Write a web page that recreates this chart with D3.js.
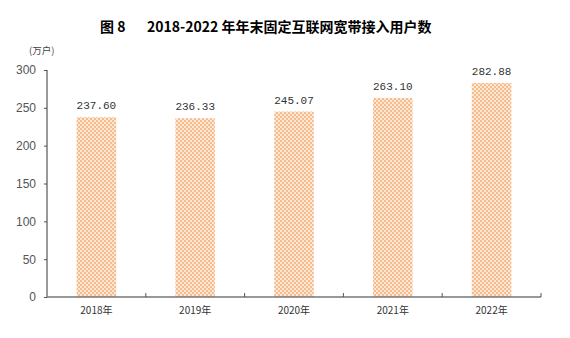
<!DOCTYPE html>
<html>
<head>
<meta charset="utf-8">
<script src="https://cdn.jsdelivr.net/npm/d3@7"></script>
<style>
  html, body { margin: 0; padding: 0; background: #fff; }
  svg { display: block; }
</style>
</head>
<body>
<script>
// Year-end fixed broadband subscribers, 2018–2022 (10k households)
const years = ["2018年", "2019年", "2020年", "2021年", "2022年"];
const subscribers = [237.60, 236.33, 245.07, 263.10, 282.88];
const yTicks = [0, 50, 100, 150, 200, 250, 300];
const titleLead = "图 8";
const titleText = "2018-2022 年年末固定互联网宽带接入用户数";
const unitLabel = "(万户)";

const W = 570, H = 338;
const plotLeft = 47, plotRight = 541, plotTop = 70, plotBottom = 297;

const svg = d3.select("body").append("svg")
  .attr("width", W).attr("height", H);

// checkerboard fill for the bars
const defs = svg.append("defs");
const pat = defs.append("pattern")
  .attr("id", "checker")
  .attr("patternUnits", "userSpaceOnUse")
  .attr("width", 4).attr("height", 4);
pat.append("rect").attr("width", 4).attr("height", 4).attr("fill", "#fde8d6");
pat.append("rect").attr("x", 0).attr("y", 0).attr("width", 2).attr("height", 2).attr("fill", "#f6bc8e");
pat.append("rect").attr("x", 2).attr("y", 2).attr("width", 2).attr("height", 2).attr("fill", "#f6bc8e");

const x = d3.scaleBand().domain(years).range([plotLeft, plotRight]).paddingInner(0.6).paddingOuter(0.3);
const xEdge = d3.scaleLinear().domain([0, years.length]).range([plotLeft, plotRight]);
const y = d3.scaleLinear().domain([0, 300]).range([plotBottom, plotTop]);

// title
svg.append("text")
  .attr("x", 100).attr("y", 32)
  .attr("font-family", "'Noto Sans CJK SC', sans-serif")
  .attr("font-weight", "bold").attr("font-size", 14).attr("fill", "#000")
  .text(titleLead);
svg.append("text")
  .attr("x", 147).attr("y", 32)
  .attr("font-family", "'Noto Sans CJK SC', sans-serif")
  .attr("font-weight", "bold").attr("font-size", 14).attr("fill", "#000")
  .text(titleText);

// unit label
svg.append("text")
  .attr("x", 29).attr("y", 54)
  .attr("font-family", "'Noto Sans CJK SC', sans-serif")
  .attr("font-size", 9.5).attr("fill", "#444")
  .text(unitLabel);

// bars
svg.append("g").selectAll("rect")
  .data(subscribers)
  .join("rect")
  .attr("x", (d, i) => x(years[i]))
  .attr("width", x.bandwidth())
  .attr("y", d => y(d))
  .attr("height", d => y(0) - y(d))
  .attr("fill", "url(#checker)");

// value labels
svg.append("g").selectAll("text")
  .data(subscribers)
  .join("text")
  .attr("x", (d, i) => x(years[i]) + x.bandwidth() / 2)
  .attr("y", d => y(d) - 8)
  .attr("text-anchor", "middle")
  .attr("font-family", "'Liberation Mono', monospace")
  .attr("font-size", 11).attr("fill", "#333")
  .text(d => d.toFixed(2));

// y axis
const yAxis = svg.append("g")
  .attr("transform", `translate(${plotLeft},0)`)
  .call(d3.axisLeft(y).tickValues(yTicks).tickSize(3).tickPadding(8).tickFormat(d3.format("d")));
yAxis.select(".domain").attr("stroke", "#777").attr("stroke-width", 1.5).attr("d", `M0,${plotTop}V${plotBottom}`);
yAxis.selectAll(".tick line").attr("stroke", "#555");
yAxis.selectAll(".tick text")
  .attr("font-family", "'Liberation Sans', Arial, sans-serif")
  .attr("font-size", 12).attr("fill", "#555");

// x axis with ticks at category boundaries
const xAxisG = svg.append("g").attr("transform", `translate(0,${plotBottom})`);
xAxisG.append("line")
  .attr("x1", plotLeft).attr("x2", plotRight)
  .attr("stroke", "#777").attr("stroke-width", 1.5);
xAxisG.selectAll("line.tk")
  .data(d3.range(1, years.length + 1))
  .join("line").attr("class", "tk")
  .attr("x1", d => xEdge(d)).attr("x2", d => xEdge(d))
  .attr("y1", 0).attr("y2", -4)
  .attr("stroke", "#555");
xAxisG.selectAll("text.cat")
  .data(years)
  .join("text").attr("class", "cat")
  .attr("x", d => x(d) + x.bandwidth() / 2)
  .attr("y", 17)
  .attr("text-anchor", "middle")
  .attr("font-family", "'Noto Sans CJK SC', sans-serif")
  .attr("font-size", 10).attr("fill", "#333")
  .text(d => d);
</script>
</body>
</html>
